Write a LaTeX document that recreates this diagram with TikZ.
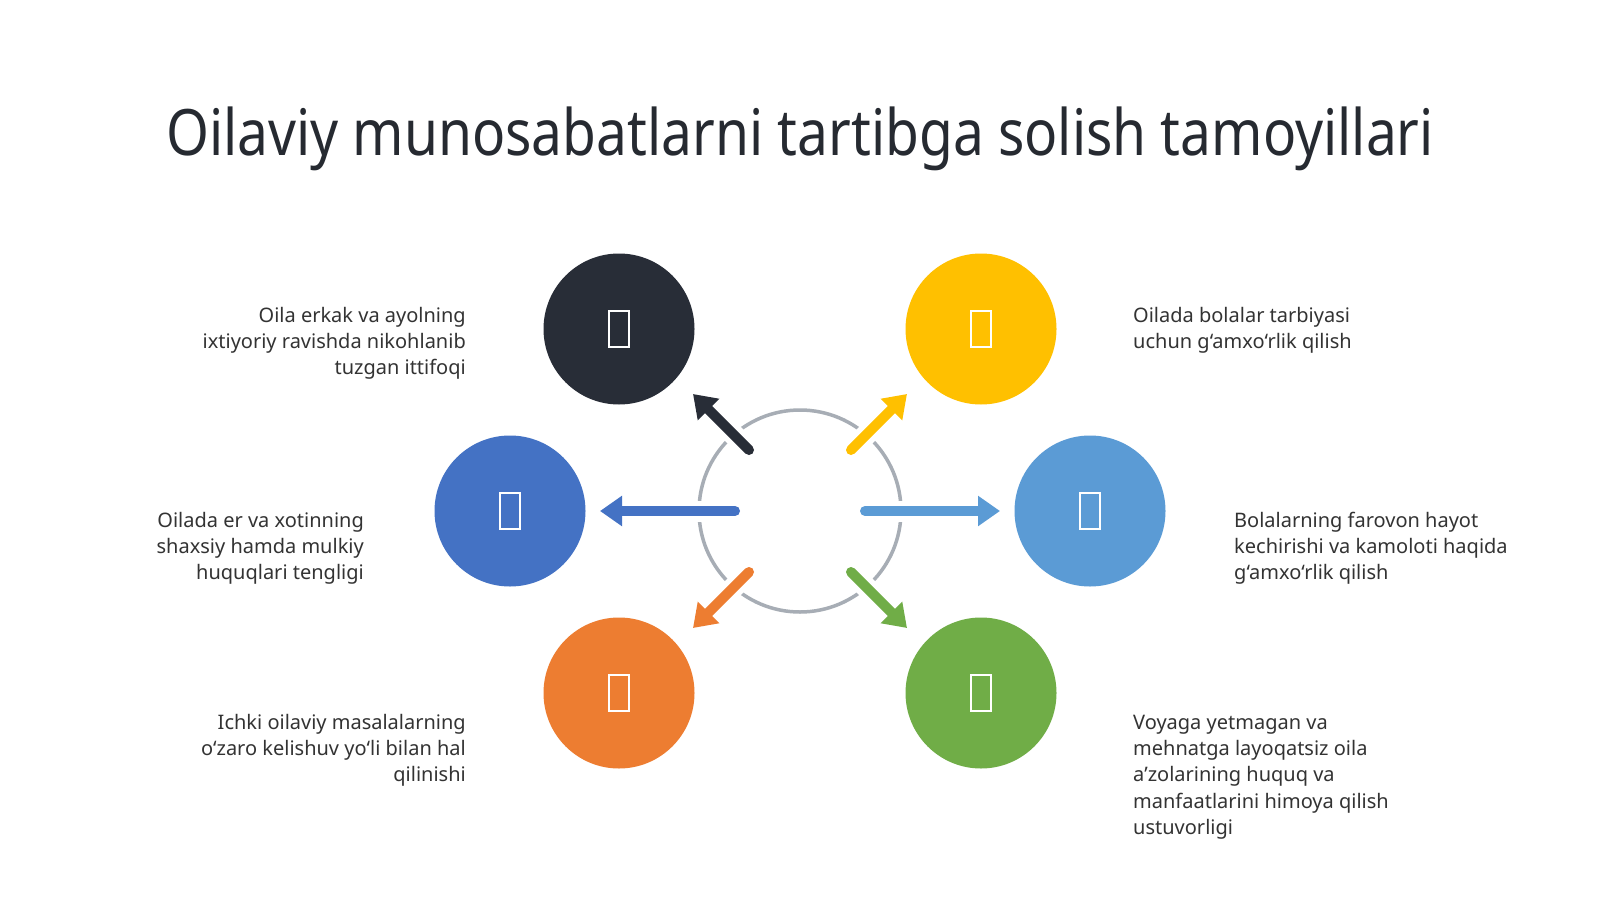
\documentclass[tikz,border=0pt]{standalone}
\usepackage{fontspec}
\setmainfont{Noto Sans}
\newfontfamily\titlefont[FakeStretch=0.86]{Noto Sans}
\usetikzlibrary{arrows.meta}
\definecolor{cdark}{HTML}{282D37}
\definecolor{cyellow}{HTML}{FFC000}
\definecolor{cblueL}{HTML}{4472C4}
\definecolor{cblueR}{HTML}{5B9BD5}
\definecolor{corange}{HTML}{ED7D31}
\definecolor{cgreen}{HTML}{70AD47}
\definecolor{ring}{HTML}{A7ADB5}
\definecolor{txt}{HTML}{333333}
\definecolor{ttl}{HTML}{262A31}
\tikzset{
  bubble/.style={circle, fill=#1, draw=none, minimum size=151pt, inner sep=0pt, text=white},
  desc/.style={inner sep=0pt, text=txt, font=\fontsize{20}{26.3}\selectfont},
  halo/.style={white, line width=21pt},
  arr/.style={#1, line width=10pt, line cap=round, -{Triangle[width=29pt,length=22pt]}}
}
\newcommand{\tofu}{\raisebox{3pt}{\color{white}\fboxsep=0pt\fboxrule=2pt\fbox{\rule{0pt}{34pt}\hspace{18pt}}}}
\begin{document}
\begin{tikzpicture}[x=1pt,y=-1pt]
\useasboundingbox[fill=white] (0,0) rectangle (1600,899);
% title
\node[anchor=base, text=ttl, inner sep=0pt, font=\titlefont\fontsize{64}{72}\selectfont] (title) at (800,155) {Oilaviy munosabatlarni tartibga solish tamoyillari};
% ring
\node[circle, draw=ring, line width=3.5pt, minimum size=202pt, inner sep=0pt] (ring) at (800,511) {};
% coordinates
\coordinate (t1) at (749,450); \coordinate (h1) at (693,394);
\coordinate (t2) at (851,450); \coordinate (h2) at (907,394);
\coordinate (t3) at (735,511); \coordinate (h3) at (600,511);
\coordinate (t4) at (865,511); \coordinate (h4) at (1000,511);
\coordinate (t5) at (749,572); \coordinate (h5) at (693,628);
\coordinate (t6) at (851,572); \coordinate (h6) at (907,628);
% halos cutting the ring
\foreach \i in {1,...,6} { \draw[halo] (t\i) -- (h\i); }
% arrows
\draw[arr=cdark] (t1) -- (h1);
\draw[arr=cyellow] (t2) -- (h2);
\draw[arr=cblueL] (t3) -- (h3);
\draw[arr=cblueR] (t4) -- (h4);
\draw[arr=corange] (t5) -- (h5);
\draw[arr=cgreen] (t6) -- (h6);
% circles
\node[bubble=cdark] (c1) at (619,329) {\tofu};
\node[bubble=cyellow] (c2) at (981,329) {\tofu};
\node[bubble=cblueL] (c3) at (510,511) {\tofu};
\node[bubble=cblueR] (c4) at (1090,511) {\tofu};
\node[bubble=corange] (c5) at (619,693) {\tofu};
\node[bubble=cgreen] (c6) at (981,693) {\tofu};
% descriptions
\node[desc, anchor=north east, align=right] (d1) at (466,306) {\rule{0pt}{16pt}Oila erkak va ayolning\\ixtiyoriy ravishda nikohlanib\\tuzgan ittifoqi};
\node[desc, anchor=north west, align=left] (d2) at (1133,306) {\rule{0pt}{16pt}Oilada bolalar tarbiyasi\\uchun g‘amxo‘rlik qilish};
\node[desc, anchor=north east, align=right] (d3) at (364,511) {\rule{0pt}{16pt}Oilada er va xotinning\\shaxsiy hamda mulkiy\\huquqlari tengligi};
\node[desc, anchor=north west, align=left] (d4) at (1234,511) {\rule{0pt}{16pt}Bolalarning farovon hayot\\kechirishi va kamoloti haqida\\g‘amxo‘rlik qilish};
\node[desc, anchor=north east, align=right] (d5) at (466,713) {\rule{0pt}{16pt}Ichki oilaviy masalalarning\\o‘zaro kelishuv yo‘li bilan hal\\qilinishi};
\node[desc, anchor=north west, align=left] (d6) at (1133,713) {\rule{0pt}{16pt}Voyaga yetmagan va\\mehnatga layoqatsiz oila\\a’zolarining huquq va\\manfaatlarini himoya qilish\\ustuvorligi};
\end{tikzpicture}
\end{document}
